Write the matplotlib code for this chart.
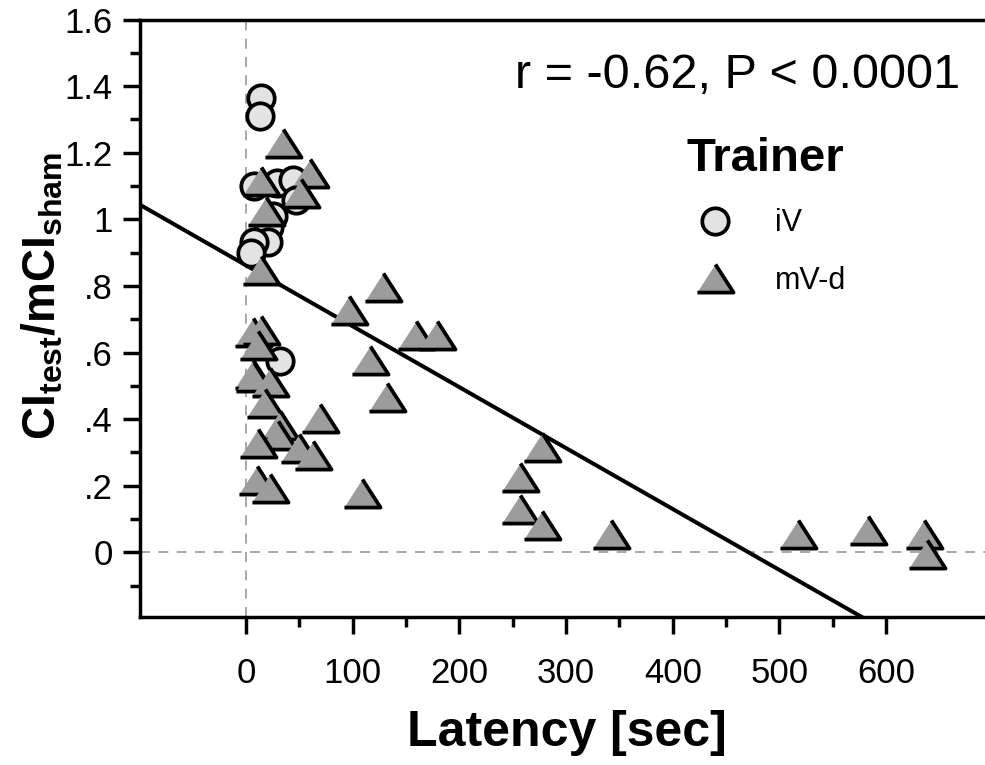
import numpy as np
import matplotlib.pyplot as plt
from matplotlib.ticker import FixedLocator

plt.rcParams['font.family'] = ['Liberation Sans', 'DejaVu Sans']
plt.rcParams['mathtext.fontset'] = 'custom'
plt.rcParams['mathtext.rm'] = 'Liberation Sans'
plt.rcParams['mathtext.bf'] = 'Liberation Sans:bold'

# iV trainer (circles): latency [s], CI ratio
iv_x = [14, 13, 8, 29, 44, 47, 25, 22, 21, 8, 5, 32]
iv_y = [1.364, 1.309, 1.099, 1.109, 1.119, 1.059, 1.009, 0.978, 0.933, 0.933, 0.898, 0.574]

# mV-d trainer (triangles)
mv_x = [35, 14, 60, 52, 19, 14, 128, 97, 159, 179, 7, 14, 11, 116, 7, 8, 23, 132,
        18, 69, 32, 30, 11, 50, 63, 10, 23, 109, 277, 257, 257, 277, 342, 517, 583, 635, 638]
mv_y = [1.229, 1.114, 1.139, 1.079, 1.024, 0.848, 0.798, 0.728, 0.653, 0.653, 0.663, 0.668,
        0.623, 0.577, 0.537, 0.527, 0.512, 0.467, 0.449, 0.402, 0.382, 0.352, 0.327, 0.312,
        0.292, 0.217, 0.192, 0.177, 0.317, 0.226, 0.131, 0.081, 0.056, 0.056, 0.066, 0.056, -0.004]

# regression line
fit_intercept = 0.862
fit_slope = -0.00183

yticks = [0, 0.2, 0.4, 0.6, 0.8, 1.0, 1.2, 1.4, 1.6]
ytick_labels = ["0", ".2", ".4", ".6", ".8", "1", "1.2", "1.4", "1.6"]
yminor = [-0.1, 0.1, 0.3, 0.5, 0.7, 0.9, 1.1, 1.3, 1.5]
xticks = [0, 100, 200, 300, 400, 500, 600]
xminor = [50, 150, 250, 350, 450, 550]

fig = plt.figure(figsize=(9.85, 7.65), dpi=100)
ax = fig.add_axes([0.1421, 0.1931, 0.8579, 0.7814])
ax.set_xlim(-99.3, 692.6)
ax.set_ylim(-0.195, 1.6)

ax.axhline(0, color="#999999", lw=1.2, ls=(0, (6, 5)), zorder=1)
ax.axvline(0, color="#999999", lw=1.2, ls=(0, (6, 5)), zorder=1)

xl = np.array([-100, 620])
ax.plot(xl, fit_intercept + fit_slope * xl, color="black", lw=2.9, zorder=2)

tri = [(-1, -0.78), (1, -0.78), (0, 0.78)]
ax.plot(iv_x, iv_y, ls="none", marker="o", ms=19, mfc="#e3e3e3", mec="black", mew=2.7,
        zorder=3, label="iV")
ax.plot(mv_x, mv_y, ls="none", marker=tri, ms=26, mfc="#9c9c9c", mec="black", mew=2.7,
        zorder=4, label="mV-d")

for s in ["left", "bottom", "top"]:
    ax.spines[s].set_linewidth(2.5)
ax.spines["right"].set_visible(False)

ax.yaxis.set_major_locator(FixedLocator(yticks))
ax.set_yticklabels(ytick_labels)
ax.yaxis.set_minor_locator(FixedLocator(yminor))
ax.xaxis.set_major_locator(FixedLocator(xticks))
ax.xaxis.set_minor_locator(FixedLocator(xminor))
ax.tick_params(which="major", length=12.5, width=2.5, labelsize=25)
ax.tick_params(which="minor", length=7.5, width=2.5)
ax.tick_params(axis="y", which="major", pad=7)
ax.tick_params(axis="x", which="major", pad=16)

ax.set_xlabel("Latency [sec]", fontsize=36, fontweight="bold")
ax.xaxis.set_label_coords(0.505, -0.155)
ax.set_ylabel(r"$\mathbf{CI_{test}/mCI_{sham}}$", fontsize=33)
ax.yaxis.set_label_coords(-0.088, 0.537)

fig.text(0.9746, 0.885, "r = -0.62, P < 0.0001", ha="right", va="baseline", fontsize=35)
leg = ax.legend(loc="upper left", bbox_to_anchor=(0.695, 0.821),
                bbox_transform=fig.transFigure, frameon=False, fontsize=22,
                title="Trainer", title_fontproperties={"size": 34, "weight": "bold"},
                handletextpad=0.95, labelspacing=0.9, borderpad=0, borderaxespad=0)

fig.savefig("out.png", dpi=100)
